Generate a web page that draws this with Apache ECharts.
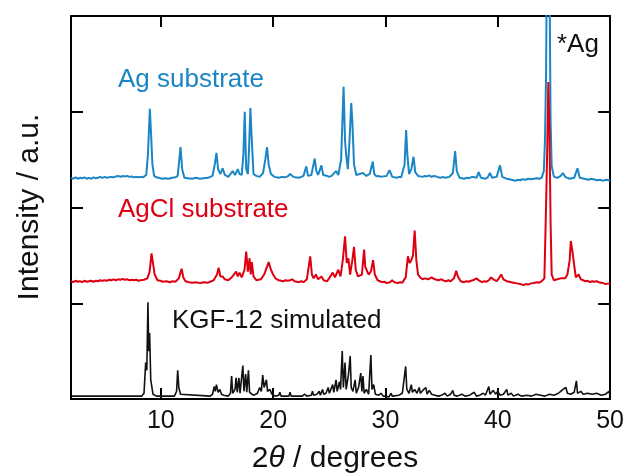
<!DOCTYPE html>
<html>
<head>
<meta charset="utf-8">
<script src="https://cdn.jsdelivr.net/npm/echarts@6/dist/echarts.min.js"></script>
<style>
html,body{margin:0;padding:0;background:#fff;}
#chart{width:627px;height:473px;}
</style>
</head>
<body>
<div id="chart"></div>
<script>
// Tick labels
var xTicks = [10, 20, 30, 40, 50];
var yTicks = [1, 2, 3];

// Series: [2theta, offset intensity]
var kgfSimulated = [[2.0,0.03],[8.3,0.03],[8.5,0.06],[8.65,0.38],[8.75,0.3],[8.85,1.01],[8.92,0.5],[9.0,0.69],[9.1,0.2],[9.3,0.05],[9.6,0.03],[11.2,0.03],[11.4,0.08],[11.5,0.3],[11.6,0.12],[11.75,0.05],[11.9,0.03],[14.4,0.03],[14.6,0.05],[14.75,0.13],[14.85,0.08],[14.95,0.15],[15.1,0.07],[15.25,0.1],[15.4,0.05],[15.6,0.04],[16.0,0.03],[16.2,0.06],[16.3,0.24],[16.4,0.06],[16.6,0.1],[16.7,0.22],[16.8,0.07],[16.95,0.22],[17.05,0.06],[17.3,0.35],[17.4,0.08],[17.55,0.26],[17.65,0.07],[17.8,0.3],[17.9,0.07],[18.1,0.05],[18.3,0.04],[18.6,0.06],[18.8,0.12],[18.95,0.08],[19.07,0.25],[19.2,0.12],[19.4,0.2],[19.5,0.08],[19.7,0.1],[19.9,0.05],[20.2,0.03],[20.5,0.04],[20.6,0.07],[20.7,0.03],[21.4,0.03],[21.5,0.07],[21.6,0.03],[22.6,0.03],[22.8,0.05],[23.0,0.03],[23.4,0.04],[23.5,0.08],[23.6,0.04],[23.9,0.05],[24.1,0.08],[24.2,0.04],[24.4,0.1],[24.5,0.05],[24.7,0.06],[24.9,0.12],[25.0,0.06],[25.3,0.15],[25.4,0.07],[25.6,0.2],[25.7,0.08],[25.9,0.18],[26.0,0.1],[26.15,0.5],[26.25,0.12],[26.4,0.38],[26.5,0.1],[26.7,0.25],[26.86,0.45],[26.95,0.12],[27.1,0.08],[27.3,0.2],[27.4,0.06],[27.6,0.12],[27.8,0.27],[27.9,0.08],[28.0,0.24],[28.1,0.06],[28.3,0.1],[28.5,0.05],[28.7,0.46],[28.8,0.1],[28.95,0.15],[29.1,0.05],[29.4,0.04],[29.6,0.06],[29.8,0.03],[30.0,0.03],[30.3,0.02],[30.5,0.06],[30.6,0.03],[31.2,0.04],[31.5,0.06],[31.8,0.34],[31.9,0.1],[32.1,0.06],[32.3,0.15],[32.4,0.07],[32.6,0.1],[32.8,0.06],[33.0,0.12],[33.1,0.06],[33.4,0.1],[33.6,0.12],[33.7,0.05],[33.9,0.09],[34.1,0.05],[34.4,0.04],[34.7,0.03],[35.0,0.04],[35.3,0.06],[35.5,0.03],[35.8,0.05],[36.0,0.09],[36.1,0.04],[36.4,0.03],[36.8,0.05],[37.1,0.03],[37.5,0.04],[37.9,0.07],[38.1,0.03],[38.4,0.04],[38.7,0.06],[38.9,0.04],[39.2,0.13],[39.3,0.05],[39.6,0.09],[39.8,0.05],[40.0,0.08],[40.2,0.04],[40.5,0.05],[40.8,0.1],[40.9,0.04],[41.2,0.06],[41.4,0.03],[41.8,0.05],[42.1,0.03],[42.6,0.04],[43.0,0.03],[43.4,0.05],[43.8,0.04],[44.2,0.03],[44.6,0.05],[45.0,0.04],[45.4,0.06],[45.6,0.08],[45.8,0.1],[46.06,0.12],[46.2,0.06],[46.5,0.05],[46.8,0.07],[47.0,0.19],[47.1,0.06],[47.4,0.08],[47.6,0.05],[48.0,0.06],[48.4,0.05],[48.8,0.06],[49.2,0.04],[49.6,0.05],[49.9,0.08],[50.0,0.03]];

var agclSubstrate = [[2.0,1.23],[2.2,1.22],[2.4,1.235],[2.6,1.225],[2.8,1.23],[3.0,1.22],[3.2,1.235],[3.4,1.225],[3.6,1.23],[3.8,1.235],[4.0,1.225],[4.2,1.235],[4.4,1.23],[4.6,1.24],[4.8,1.235],[5.0,1.24],[5.2,1.235],[5.4,1.245],[5.6,1.24],[5.8,1.25],[6.0,1.24],[6.2,1.25],[6.4,1.245],[6.6,1.255],[6.8,1.245],[7.0,1.25],[7.2,1.24],[7.4,1.245],[7.6,1.24],[7.8,1.245],[8.0,1.235],[8.2,1.24],[8.5,1.245],[8.8,1.26],[9.0,1.33],[9.17,1.52],[9.3,1.42],[9.45,1.3],[9.7,1.24],[9.95,1.235],[10.2,1.225],[10.5,1.23],[10.8,1.22],[11.05,1.23],[11.3,1.225],[11.6,1.26],[11.85,1.36],[12.0,1.27],[12.2,1.23],[12.5,1.22],[12.8,1.215],[13.1,1.22],[13.5,1.21],[13.8,1.22],[14.2,1.215],[14.5,1.23],[14.7,1.24],[15.0,1.3],[15.15,1.37],[15.3,1.28],[15.5,1.28],[15.7,1.25],[16.0,1.24],[16.3,1.27],[16.5,1.3],[16.7,1.33],[16.85,1.28],[17.0,1.32],[17.2,1.27],[17.45,1.35],[17.6,1.54],[17.75,1.33],[17.9,1.47],[18.0,1.3],[18.1,1.43],[18.25,1.28],[18.5,1.24],[18.9,1.25],[19.2,1.3],[19.45,1.38],[19.6,1.43],[19.8,1.35],[20.0,1.3],[20.2,1.26],[20.5,1.24],[20.7,1.235],[20.9,1.23],[21.1,1.24],[21.3,1.235],[21.5,1.24],[21.7,1.25],[21.9,1.23],[22.1,1.225],[22.3,1.22],[22.5,1.23],[22.7,1.22],[23.0,1.25],[23.3,1.49],[23.45,1.3],[23.6,1.26],[23.8,1.3],[24.0,1.25],[24.3,1.28],[24.5,1.24],[24.8,1.23],[25.1,1.28],[25.3,1.32],[25.5,1.27],[25.8,1.35],[26.0,1.28],[26.2,1.45],[26.4,1.7],[26.55,1.42],[26.7,1.47],[26.85,1.3],[27.05,1.45],[27.2,1.59],[27.35,1.35],[27.55,1.28],[27.9,1.3],[28.1,1.56],[28.2,1.38],[28.3,1.4],[28.5,1.3],[28.7,1.33],[28.9,1.45],[29.05,1.3],[29.3,1.24],[29.5,1.23],[29.7,1.22],[29.9,1.225],[30.1,1.21],[30.4,1.22],[30.6,1.24],[30.8,1.22],[31.1,1.21],[31.3,1.22],[31.5,1.215],[31.8,1.27],[32.0,1.49],[32.15,1.42],[32.3,1.45],[32.45,1.5],[32.6,1.76],[32.75,1.45],[32.9,1.3],[33.1,1.27],[33.3,1.25],[33.5,1.26],[33.8,1.25],[34.1,1.27],[34.4,1.25],[34.7,1.24],[35.0,1.25],[35.2,1.235],[35.4,1.23],[35.6,1.24],[35.8,1.23],[36.1,1.26],[36.3,1.34],[36.45,1.28],[36.7,1.23],[37.0,1.22],[37.2,1.23],[37.4,1.225],[37.6,1.235],[37.8,1.24],[38.1,1.26],[38.3,1.24],[38.6,1.22],[38.8,1.23],[39.0,1.225],[39.2,1.24],[39.4,1.27],[39.6,1.25],[39.9,1.23],[40.1,1.26],[40.3,1.3],[40.5,1.25],[40.8,1.23],[41.0,1.225],[41.2,1.22],[41.4,1.215],[41.6,1.21],[41.8,1.205],[42.0,1.2],[42.3,1.19],[42.5,1.2],[42.7,1.195],[42.9,1.205],[43.1,1.21],[43.3,1.215],[43.5,1.22],[43.7,1.215],[43.9,1.23],[44.15,1.26],[44.3,2.03],[44.4,2.6],[44.5,3.31],[44.6,2.8],[44.7,1.85],[44.8,1.3],[45.0,1.24],[45.3,1.25],[45.6,1.26],[45.75,1.28],[46.0,1.26],[46.2,1.3],[46.4,1.45],[46.5,1.65],[46.65,1.54],[46.8,1.4],[46.95,1.27],[47.2,1.3],[47.4,1.25],[47.6,1.24],[47.8,1.23],[48.0,1.235],[48.2,1.22],[48.4,1.23],[48.6,1.225],[48.8,1.23],[49.0,1.22],[49.2,1.215],[49.4,1.21],[49.6,1.2],[49.8,1.205],[50.0,1.21]];

var agSubstrate = [[2.0,2.31],[2.2,2.3],[2.4,2.315],[2.6,2.3],[2.8,2.31],[3.0,2.305],[3.2,2.315],[3.4,2.3],[3.6,2.31],[3.8,2.3],[4.0,2.315],[4.2,2.305],[4.4,2.31],[4.6,2.32],[4.8,2.31],[5.0,2.32],[5.2,2.31],[5.4,2.315],[5.6,2.32],[5.8,2.315],[6.0,2.325],[6.2,2.33],[6.4,2.32],[6.6,2.33],[6.8,2.325],[7.0,2.33],[7.2,2.32],[7.4,2.325],[7.6,2.315],[7.8,2.32],[8.0,2.315],[8.2,2.32],[8.4,2.315],[8.7,2.34],[8.85,2.55],[9.02,3.03],[9.12,2.79],[9.25,2.45],[9.4,2.33],[9.6,2.315],[9.8,2.31],[10.1,2.3],[10.4,2.305],[10.7,2.3],[11.0,2.31],[11.3,2.315],[11.5,2.33],[11.75,2.63],[11.9,2.4],[12.1,2.31],[12.4,2.305],[12.8,2.3],[13.1,2.31],[13.5,2.3],[13.8,2.305],[14.2,2.31],[14.6,2.33],[14.8,2.45],[14.95,2.57],[15.1,2.4],[15.3,2.35],[15.5,2.41],[15.7,2.34],[16.0,2.32],[16.4,2.38],[16.6,2.34],[16.85,2.4],[17.0,2.35],[17.2,2.34],[17.35,2.55],[17.47,3.0],[17.6,2.4],[17.75,2.35],[17.85,2.6],[17.97,3.04],[18.1,2.7],[18.25,2.35],[18.5,2.33],[18.8,2.32],[19.1,2.36],[19.3,2.5],[19.45,2.63],[19.6,2.45],[19.8,2.35],[20.1,2.32],[20.3,2.315],[20.5,2.31],[20.8,2.32],[21.0,2.315],[21.3,2.325],[21.5,2.35],[21.8,2.32],[22.0,2.315],[22.3,2.31],[22.5,2.32],[22.7,2.33],[22.95,2.43],[23.1,2.33],[23.4,2.34],[23.7,2.51],[23.85,2.38],[24.0,2.34],[24.3,2.44],[24.45,2.34],[24.8,2.33],[25.0,2.32],[25.2,2.33],[25.6,2.38],[25.8,2.34],[26.05,2.5],[26.27,3.26],[26.4,2.7],[26.5,2.55],[26.65,2.4],[26.8,2.7],[26.95,3.09],[27.05,2.9],[27.2,2.45],[27.4,2.34],[27.7,2.35],[28.0,2.36],[28.3,2.33],[28.6,2.35],[28.87,2.48],[29.0,2.35],[29.2,2.325],[29.4,2.33],[29.6,2.32],[29.8,2.325],[30.1,2.33],[30.36,2.39],[30.6,2.32],[30.8,2.315],[31.0,2.31],[31.2,2.32],[31.4,2.315],[31.7,2.45],[31.84,2.81],[31.95,2.55],[32.1,2.35],[32.3,2.4],[32.5,2.53],[32.65,2.37],[32.9,2.33],[33.1,2.325],[33.3,2.32],[33.5,2.33],[33.7,2.325],[33.9,2.335],[34.1,2.32],[34.3,2.33],[34.5,2.325],[34.7,2.315],[34.9,2.31],[35.1,2.32],[35.3,2.31],[35.5,2.315],[35.7,2.32],[36.0,2.36],[36.2,2.59],[36.35,2.38],[36.6,2.31],[36.8,2.305],[37.0,2.3],[37.2,2.31],[37.4,2.305],[37.6,2.315],[37.8,2.32],[38.1,2.31],[38.3,2.37],[38.5,2.31],[38.7,2.305],[38.9,2.3],[39.1,2.315],[39.3,2.36],[39.5,2.31],[39.7,2.315],[39.9,2.32],[40.2,2.44],[40.4,2.32],[40.6,2.31],[40.8,2.3],[41.0,2.295],[41.2,2.29],[41.4,2.285],[41.6,2.28],[41.8,2.29],[42.0,2.285],[42.2,2.295],[42.5,2.29],[42.7,2.3],[43.0,2.295],[43.2,2.3],[43.5,2.305],[43.7,2.3],[43.9,2.31],[44.1,2.38],[44.2,2.7],[44.3,3.4],[44.45,6.0],[44.6,4.5],[44.7,2.9],[44.8,2.43],[45.0,2.32],[45.3,2.31],[45.6,2.33],[45.8,2.36],[46.0,2.32],[46.2,2.31],[46.4,2.3],[46.6,2.305],[46.8,2.31],[47.1,2.41],[47.3,2.31],[47.5,2.305],[47.7,2.3],[47.9,2.295],[48.1,2.29],[48.3,2.3],[48.5,2.295],[48.7,2.29],[48.9,2.285],[49.1,2.29],[49.3,2.28],[49.5,2.285],[49.7,2.29],[50.0,2.28]];

var BLUE = '#1b86c5', RED = '#de0010', BLACK = '#111111';
var FONT = 'Liberation Sans, Arial, sans-serif';

var chart = echarts.init(document.getElementById('chart'), null, {renderer: 'canvas'});

function xAxisDef(pos, showLabel) {
  return {
    type: 'value', position: pos, min: 2, max: 50,
    axisLine: {show: true, onZero: false, lineStyle: {color: '#000', width: 2}},
    axisTick: {show: true, inside: true, length: 11, customValues: xTicks, lineStyle: {color: '#000', width: 2}},
    axisLabel: {show: showLabel, customValues: xTicks, margin: 10, fontSize: 25, color: '#111', fontFamily: FONT},
    splitLine: {show: false}
  };
}
function yAxisDef(pos) {
  return {
    type: 'value', position: pos, min: 0, max: 4,
    axisLine: {show: true, onZero: false, lineStyle: {color: '#000', width: 2}},
    axisTick: {show: true, inside: true, length: 12, customValues: yTicks, lineStyle: {color: '#000', width: 2}},
    axisLabel: {show: false},
    splitLine: {show: false}
  };
}

chart.setOption({
  animation: false,
  backgroundColor: '#fff',
  grid: {left: 71, right: 16, top: 16, bottom: 74, containLabel: false},
  xAxis: [xAxisDef('bottom', true), xAxisDef('top', false)],
  yAxis: [yAxisDef('left'), yAxisDef('right')],
  series: [
    {type: 'line', name: 'KGF-12 simulated', data: kgfSimulated, showSymbol: false, clip: true,
     lineStyle: {color: BLACK, width: 1.6}, itemStyle: {color: BLACK}},
    {type: 'line', name: 'Ag substrate', data: agSubstrate, showSymbol: false, clip: true,
     lineStyle: {color: BLUE, width: 2}, itemStyle: {color: BLUE}},
    {type: 'line', name: 'AgCl substrate', data: agclSubstrate, showSymbol: false, clip: true,
     lineStyle: {color: RED, width: 2}, itemStyle: {color: RED}}
  ],
  graphic: [
    {type: 'text', left: 118, top: 67, style: {text: 'Ag substrate', fill: BLUE, font: '26px ' + FONT}},
    {type: 'text', left: 118, top: 197, style: {text: 'AgCl substrate', fill: RED, font: '26px ' + FONT}},
    {type: 'text', left: 172, top: 308, style: {text: 'KGF-12 simulated', fill: '#111', font: '26px ' + FONT}},
    {type: 'text', left: 557, top: 32, style: {text: '*Ag', fill: '#111', font: '26px ' + FONT}},
    {type: 'text', x: 30, y: 207, rotation: Math.PI / 2,
     style: {text: 'Intensity / a.u.', fill: '#111', font: '30px ' + FONT, align: 'center', verticalAlign: 'middle'}},
    {type: 'text', x: 335, y: 444,
     style: {align: 'center', verticalAlign: 'top',
             rich: {n: {fontSize: 30, fontFamily: FONT, fill: '#111'}, i: {fontSize: 30, fontFamily: FONT, fontStyle: 'italic', fill: '#111'}},
             text: '{n|2}{i|θ}{n| / degrees}'}}
  ]
});
</script>
</body>
</html>
